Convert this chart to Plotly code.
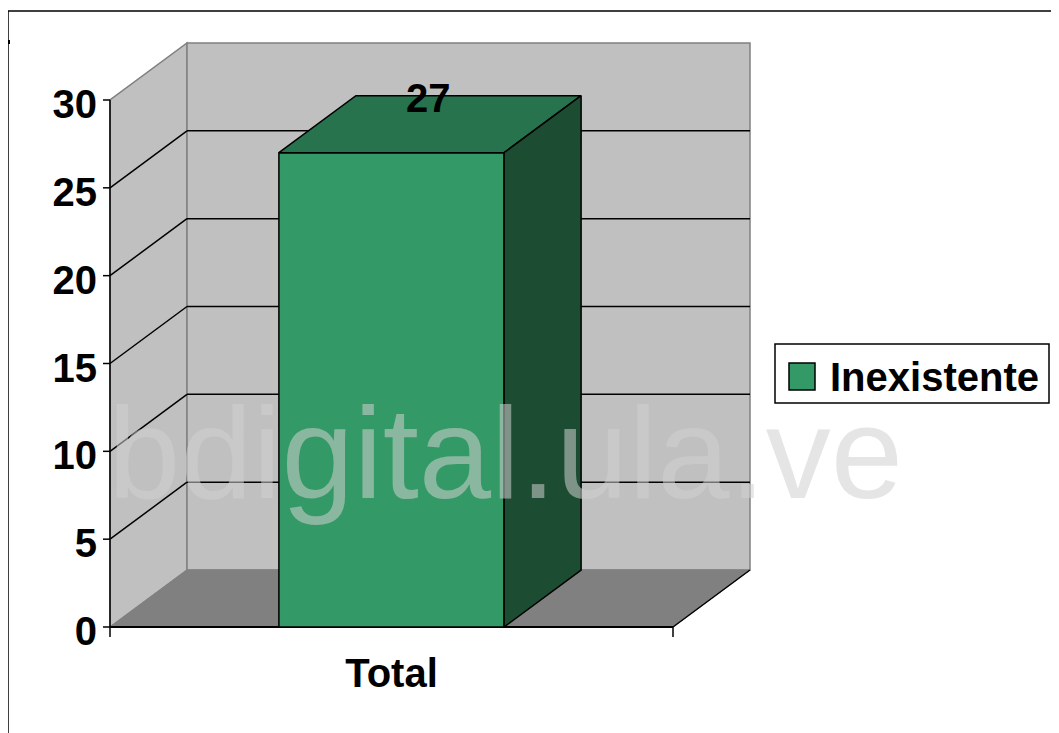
import plotly.graph_objects as go

# ---- data ----
categories = ["Total"]
series_name = "Inexistente"
values = [27]
y_ticks = [0, 5, 10, 15, 20, 25, 30]
watermark = "bdigital.ula.ve"

# ---- style / geometry constants (page pixel coordinates) ----
FIG_W, FIG_H = 1059, 733
OFF = 8           # page body margin offset
PX_X = 563.0      # pixels per category unit
PX_Y = 17.567     # pixels per y unit
X0_PX, Y0_PX = 110, 627  # pixel position of (0, 0)
L, R, T, B = 103, 755, 41, 637  # plot area in pixels
XMIN, XMAX = (L - X0_PX) / PX_X, (R - X0_PX) / PX_X
YMIN, YMAX = (Y0_PX - B) / PX_Y, (Y0_PX - T) / PX_Y
DX, DY = 77 / PX_X, 57 / PX_Y   # 3D depth offset
BAR_W = 0.4
YTOP = max(y_ticks)

WALL = "#c0c0c0"
FLOOR = "#808080"
EDGE = "#808080"
FRONT = "#339966"
TOPC = "#26734d"
SIDE = "#1c4d33"
FONT = "Liberation Sans, Arial, sans-serif"


def px(xp):
    return (xp - L) / (R - L)


def py(yp):
    return (B - yp) / (B - T)


def poly(pts):
    return "M " + " L ".join(f"{x},{y}" for x, y in pts) + " Z"


shapes = []
# side (left) wall
shapes.append(dict(type="path", xref="x", yref="y", layer="below",
                   path=poly([(0, 0), (DX, DY), (DX, YTOP + DY), (0, YTOP)]),
                   fillcolor=WALL, line=dict(color=EDGE, width=1.5)))
# back wall
shapes.append(dict(type="rect", xref="x", yref="y", layer="below",
                   x0=DX, x1=1 + DX, y0=DY, y1=YTOP + DY,
                   fillcolor=WALL, line=dict(color=EDGE, width=1.5)))
# floor
shapes.append(dict(type="path", xref="x", yref="y", layer="below",
                   path=poly([(0, 0), (1, 0), (1 + DX, DY), (DX, DY)]),
                   fillcolor=FLOOR, line=dict(color=EDGE, width=1)))
# gridlines
for v in y_ticks:
    if v == 0 or v == YTOP:
        continue
    shapes.append(dict(type="line", xref="x", yref="y", layer="below",
                       x0=DX, x1=1 + DX, y0=v + DY, y1=v + DY,
                       line=dict(color="black", width=1.5)))
    shapes.append(dict(type="line", xref="x", yref="y", layer="below",
                       x0=0, x1=DX, y0=v, y1=v + DY,
                       line=dict(color="black", width=1.5)))
# floor front & right edges
shapes.append(dict(type="line", xref="x", yref="y", layer="below",
                   x0=0, x1=1, y0=0, y1=0, line=dict(color="black", width=2)))
shapes.append(dict(type="line", xref="x", yref="y", layer="below",
                   x0=1, x1=1 + DX, y0=0, y1=DY, line=dict(color="black", width=1.5)))
# y axis line + ticks
shapes.append(dict(type="line", xref="x", yref="y", layer="above",
                   x0=0, x1=0, y0=0, y1=YTOP, line=dict(color="black", width=1.5)))
for v in y_ticks:
    shapes.append(dict(type="line", xref="x", yref="y", layer="above",
                       x0=XMIN, x1=0, y0=v, y1=v, line=dict(color="black", width=1.5)))
# x axis boundary ticks
for xv in [0, len(categories)]:
    shapes.append(dict(type="line", xref="x", yref="y", layer="above",
                       x0=xv, x1=xv, y0=0, y1=YMIN, line=dict(color="black", width=1.5)))

# outer chart border (cropped on right/bottom)
shapes.append(dict(type="rect", xref="paper", yref="paper",
                   x0=px(8), x1=px(1075), y0=py(11), y1=py(750),
                   line=dict(color="black", width=1.5), fillcolor="rgba(0,0,0,0)"))
shapes.append(dict(type="rect", xref="paper", yref="paper",
                   x0=px(7), x1=px(10), y0=py(40), y1=py(44),
                   line=dict(width=0), fillcolor="black"))
# legend box
shapes.append(dict(type="rect", xref="paper", yref="paper",
                   x0=px(775), x1=px(1049), y0=py(344), y1=py(403),
                   line=dict(color="black", width=1.5), fillcolor="white"))
shapes.append(dict(type="rect", xref="paper", yref="paper",
                   x0=px(789), x1=px(815), y0=py(363), y1=py(390),
                   line=dict(color="black", width=1.5), fillcolor=FRONT))

fig = go.Figure()
xs = [i + 0.5 for i in range(len(categories))]
fig.add_trace(go.Bar(x=xs, y=values, width=BAR_W, name=series_name,
                     marker=dict(color=FRONT, line=dict(color="black", width=1.5)),
                     showlegend=False, hoverinfo="skip"))
for xc, v in zip(xs, values):
    x0, x1 = xc - BAR_W / 2, xc + BAR_W / 2
    top = [(x0, v), (x1, v), (x1 + DX, v + DY), (x0 + DX, v + DY), (x0, v)]
    side = [(x1, 0), (x1 + DX, DY), (x1 + DX, v + DY), (x1, v), (x1, 0)]
    for pts, col in [(top, TOPC), (side, SIDE)]:
        fig.add_trace(go.Scatter(x=[p[0] for p in pts], y=[p[1] for p in pts],
                                 mode="lines", fill="toself", fillcolor=col,
                                 line=dict(color="black", width=1.5),
                                 showlegend=False, hoverinfo="skip"))

annotations = []
for xc, v in zip(xs, values):
    annotations.append(dict(x=xc + DX / 2, y=v + DY, xref="x", yref="y",
                            text=f"<b>{v}</b>", showarrow=False,
                            xshift=-2, yshift=-2,
                            font=dict(family=FONT, size=40, color="black")))
annotations.append(dict(x=px(828), y=py(377), xref="paper", yref="paper",
                        xanchor="left", yanchor="middle", showarrow=False,
                        text=f"<b>{series_name}</b>",
                        font=dict(family=FONT, size=40, color="black")))
annotations.append(dict(x=px(505), y=py(453), xref="paper", yref="paper",
                        xanchor="center", yanchor="middle", showarrow=False,
                        text=watermark,
                        font=dict(family=FONT, size=130, color="rgba(207,207,207,0.55)")))

fig.update_layout(
    width=FIG_W, height=FIG_H,
    margin=dict(l=L - OFF, r=FIG_W - (R - OFF), t=T - OFF, b=FIG_H - (B - OFF), pad=0),
    paper_bgcolor="white", plot_bgcolor="rgba(0,0,0,0)",
    shapes=shapes, annotations=annotations, showlegend=False,
    xaxis=dict(range=[XMIN, XMAX], tickvals=xs,
               ticktext=[f"<b>{c}</b>" for c in categories],
               ticks="", showgrid=False, zeroline=False, showline=False,
               tickfont=dict(family=FONT, size=40, color="black"),
               ticklabelstandoff=9),
    yaxis=dict(range=[YMIN, YMAX], tickvals=y_ticks,
               ticktext=[f"<b>{t}</b>" for t in y_ticks],
               ticks="", showgrid=False, zeroline=False, showline=False,
               tickfont=dict(family=FONT, size=40, color="black"),
               ticklabelstandoff=5, ticklabelshift=4),
)

fig.write_html("out.html")
